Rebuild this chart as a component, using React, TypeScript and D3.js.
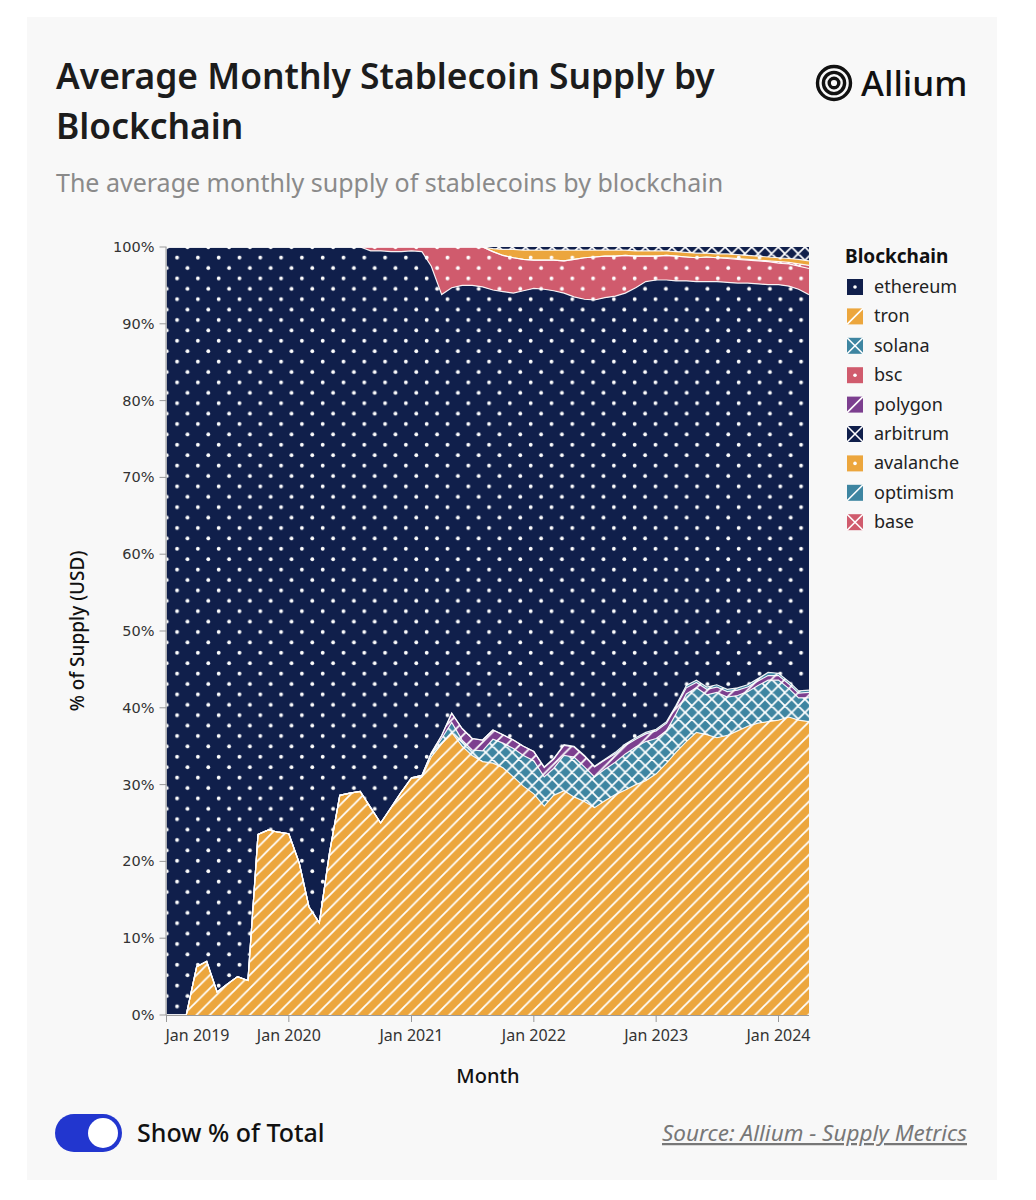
import React from "react";
import * as d3 from "d3";

const months = [
  "2019-01","2019-02","2019-03","2019-04","2019-05","2019-06","2019-07","2019-08","2019-09","2019-10","2019-11","2019-12",
  "2020-01","2020-02","2020-03","2020-04","2020-05","2020-06","2020-07","2020-08","2020-09","2020-10","2020-11","2020-12",
  "2021-01","2021-02","2021-03","2021-04","2021-05","2021-06","2021-07","2021-08","2021-09","2021-10","2021-11","2021-12",
  "2022-01","2022-02","2022-03","2022-04","2022-05","2022-06","2022-07","2022-08","2022-09","2022-10","2022-11","2022-12",
  "2023-01","2023-02","2023-03","2023-04","2023-05","2023-06","2023-07","2023-08","2023-09","2023-10","2023-11","2023-12",
  "2024-01","2024-02","2024-03","2024-04",
];

const tron = [
  0,0,0,6.3,7.0,3.0,4.0,5.0,4.5,23.5,24.1,23.8,
  23.6,19.8,14.1,12.0,21.0,28.6,28.9,29.1,27.0,25.0,27.0,29.0,
  30.8,31.0,33.6,35.3,36.8,35.0,33.8,33.0,32.8,32.2,31.0,29.8,
  28.8,27.2,28.6,29.2,28.4,27.8,27.0,27.9,28.7,29.3,30.0,30.5,
  31.4,32.8,34.2,35.6,36.8,36.5,36.1,36.4,37.0,37.6,38.0,38.2,
  38.4,38.8,38.4,38.2,
];
const solana = [
  0,0,0,0,0,0,0,0,0,0,0,0,
  0,0,0,0,0,0,0,0,0,0,0,0,
  0.1,0.2,0.4,0.7,1.3,0.8,0.7,1.4,3.1,3.2,3.7,4.0,
  4.3,3.8,3.5,4.6,5.2,4.5,4.0,4.1,4.2,4.7,4.9,5.1,
  4.6,4.2,5.0,6.2,5.8,5.2,5.9,5.0,4.6,4.5,4.9,5.4,
  5.2,3.7,2.9,3.1,
];
const polygon = [
  0,0,0,0,0,0,0,0,0,0,0,0,
  0,0,0,0,0,0,0,0,0,0,0,0,
  0,0,0.1,0.4,1.2,1.5,1.5,1.4,1.2,1.1,1.1,1.2,
  1.2,1.2,1.2,1.3,1.3,1.4,1.3,1.2,1.1,1.1,1.0,1.0,
  1.0,1.0,0.9,0.8,0.7,0.7,0.7,0.7,0.7,0.6,0.6,0.6,
  0.6,0.6,0.6,0.7,
];
const optimism = [
  0,0,0,0,0,0,0,0,0,0,0,0,
  0,0,0,0,0,0,0,0,0,0,0,0,
  0,0,0,0,0,0,0,0,0,0,0,0,
  0,0.1,0.1,0.1,0.1,0.1,0.1,0.1,0.2,0.2,0.2,0.2,
  0.2,0.2,0.2,0.3,0.3,0.3,0.3,0.3,0.3,0.3,0.3,0.4,
  0.3,0.3,0.3,0.3,
];
const ethereum = [
  100,100,100,93.7,93.0,97.0,96.0,95.0,95.5,76.5,75.9,76.2,
  76.4,80.2,85.9,88.0,79.0,71.4,71.1,70.9,72.5,74.5,72.4,70.4,
  68.6,68.2,63.4,57.4,55.4,57.7,59.0,59.0,57.3,57.7,58.2,59.3,
  60.3,62.2,60.9,58.8,58.5,59.4,60.7,60.1,59.4,58.7,58.6,58.7,
  58.5,57.5,55.3,52.7,51.9,52.8,52.5,53.0,52.7,52.3,51.4,50.5,
  50.6,51.5,52.3,51.5,
];
const bsc = [
  0,0,0,0,0,0,0,0,0,0,0,0,
  0,0,0,0,0,0,0,0,0.5,0.5,0.6,0.6,
  0.5,0.6,2.5,6.2,5.3,5.0,5.0,5.2,5.0,4.7,4.6,4.1,
  3.7,3.8,4.0,4.2,4.9,5.4,5.6,5.4,5.2,4.9,4.1,3.3,
  3.1,3.2,3.2,3.1,3.1,3.2,3.1,3.1,3.1,3.0,3.0,3.0,
  2.8,2.9,3.0,3.4,
];
const base = [
  0,0,0,0,0,0,0,0,0,0,0,0,
  0,0,0,0,0,0,0,0,0,0,0,0,
  0,0,0,0,0,0,0,0,0,0,0,0,
  0,0,0,0,0,0,0,0,0,0,0,0,
  0,0,0,0,0,0,0,0.1,0.1,0.1,0.1,0.1,
  0.2,0.2,0.3,0.4,
];
const avalanche = [
  0,0,0,0,0,0,0,0,0,0,0,0,
  0,0,0,0,0,0,0,0,0,0,0,0,
  0,0,0,0,0,0,0,0,0.4,0.8,1.1,1.2,
  1.3,1.3,1.3,1.4,1.2,1.0,0.9,0.8,0.8,0.7,0.7,0.7,
  0.7,0.6,0.6,0.6,0.6,0.5,0.5,0.5,0.5,0.5,0.5,0.5,
  0.5,0.5,0.6,0.6,
];
const arbitrum = [
  0,0,0,0,0,0,0,0,0,0,0,0,
  0,0,0,0,0,0,0,0,0,0,0,0,
  0,0,0,0,0,0,0,0,0.2,0.3,0.3,0.4,
  0.4,0.4,0.4,0.4,0.4,0.4,0.4,0.4,0.4,0.4,0.5,0.5,
  0.5,0.5,0.6,0.7,0.8,0.8,0.9,0.9,1.0,1.1,1.2,1.3,
  1.4,1.5,1.6,1.8,
];

const legendOrder = ["ethereum","tron","solana","bsc","polygon","arbitrum","avalanche","optimism","base"];
const stackOrder = ["tron","solana","polygon","optimism","ethereum","bsc","base","avalanche","arbitrum"];
const yTicks = [0,0.1,0.2,0.3,0.4,0.5,0.6,0.7,0.8,0.9,1];

const seriesData: Record<string, number[]> = { ethereum, tron, solana, bsc, polygon, arbitrum, avalanche, optimism, base };

const NAVY = "#101f4b";
const ORANGE = "#eca63d";
const TEAL = "#3e85a1";
const PINK = "#d05b6d";
const PURPLE = "#7c3f8f";

const styleOf: Record<string, { color: string; kind: string }> = {
  ethereum: { color: NAVY, kind: "dot" },
  tron: { color: ORANGE, kind: "diag" },
  solana: { color: TEAL, kind: "cross" },
  bsc: { color: PINK, kind: "dot" },
  polygon: { color: PURPLE, kind: "diag" },
  arbitrum: { color: NAVY, kind: "cross" },
  avalanche: { color: ORANGE, kind: "dot" },
  optimism: { color: TEAL, kind: "diag" },
  base: { color: PINK, kind: "cross" },
};

const X0 = 166.5, X1 = 809, Y0 = 1015, Y1 = 247;
const FONT = "'Noto Sans', sans-serif";

function Pattern({ id, color, kind }: { id: string; color: string; kind: string }) {
  if (kind === "dot") {
    const s = 20.8;
    return (
      <pattern id={id} patternUnits="userSpaceOnUse" width={s} height={s} x={161.5} y={242}>
        <rect width={s} height={s} fill={color} />
        <circle cx={s / 4} cy={s / 4} r={1.9} fill="#fff" />
        <circle cx={(3 * s) / 4} cy={(3 * s) / 4} r={1.9} fill="#fff" />
      </pattern>
    );
  }
  const s = 13.3;
  const q = s / 4;
  const diag = `M0,${s}L${s},0M${-q},${q}L${q},${-q}M${s - q},${s + q}L${s + q},${s - q}`;
  const anti = `M0,0L${s},${s}M${-q},${s - q}L${q},${s + q}M${s - q},${-q}L${s + q},${q}`;
  return (
    <pattern id={id} patternUnits="userSpaceOnUse" width={s} height={s} x={X0} y={Y1}>
      <rect width={s} height={s} fill={color} />
      <path d={kind === "cross" ? diag + anti : diag} stroke="#fff" strokeWidth={1.8} fill="none" />
    </pattern>
  );
}

export default function App() {
  const parse = d3.timeParse("%Y-%m");
  const dates = months.map((m) => parse(m) as Date);
  const x = d3.scaleTime().domain([dates[0], dates[dates.length - 1]]).range([X0, X1]);
  const y = d3.scaleLinear().domain([0, 1]).range([Y0, Y1]);

  const rows = dates.map((d, i) => {
    const r: any = { date: d };
    stackOrder.forEach((k) => (r[k] = seriesData[k][i]));
    return r;
  });
  const stacked = d3.stack<any>().keys(stackOrder).offset(d3.stackOffsetExpand)(rows);
  const area = d3
    .area<any>()
    .x((d) => x(d.data.date))
    .y0((d) => y(d[0]))
    .y1((d) => y(d[1]));
  const topLine = d3
    .line<any>()
    .x((d) => x(d.data.date))
    .y((d) => y(d[1]));

  const xTicks = x.ticks(d3.timeYear.every(1) as any);
  const fmtX = d3.timeFormat("Jan %Y");
  const fmtY = d3.format(".0%");

  return (
    <div style={{ position: "absolute", left: 0, top: 0 }}>
      <svg width={1036} height={1200} style={{ display: "block" }}>
        <defs>
          {legendOrder.map((k) => (
            <Pattern key={k} id={`pat-${k}`} color={styleOf[k].color} kind={styleOf[k].kind} />
          ))}
          <clipPath id="plot-clip">
            <rect x={X0} y={Y1} width={X1 - X0} height={Y0 - Y1} />
          </clipPath>
        </defs>
        <rect width={1036} height={1200} fill="#ffffff" />
        <rect x={27} y={17} width={970} height={1163} fill="#f8f8f8" />

        {/* Title */}
        <text x={56} y={89} fontFamily={FONT} fontSize={35.4} fontWeight={600} fill="#1c1c1c">
          Average Monthly Stablecoin Supply by
        </text>
        <text x={56} y={139} fontFamily={FONT} fontSize={35.4} fontWeight={600} fill="#1c1c1c">
          Blockchain
        </text>
        <text x={56} y={192} fontFamily={FONT} fontSize={25} fill="#8a8a8a">
          The average monthly supply of stablecoins by blockchain
        </text>

        {/* Logo */}
        <g transform="translate(834,83)" fill="none" stroke="#111" strokeWidth={3.4}>
          <circle r={16.5} />
          <circle r={10.6} />
          <circle r={4.8} />
        </g>
        <text x={861} y={96} fontFamily={FONT} fontSize={35} fontWeight={500} fill="#111">
          Allium
        </text>

        {/* Areas */}
        <g clipPath="url(#plot-clip)">
          {stacked.map((s) => (
            <path key={s.key} d={area(s) || ""} fill={`url(#pat-${s.key})`} />
          ))}
          {stacked.slice(0, stacked.length - 1).map((s) => (
            <path key={"l" + s.key} d={topLine(s) || ""} fill="none" stroke="#ffffff" strokeOpacity={0.9} strokeWidth={1.2} />
          ))}
        </g>

        {/* Y axis */}
        <g fontFamily="'DejaVu Sans', sans-serif" fontSize={14.5} fill="#333">
          <line x1={X0 - 0.5} x2={X0 - 0.5} y1={Y1} y2={Y0} stroke="#999" />
          {yTicks.map((t) => (
            <g key={t} transform={`translate(0,${y(t)})`}>
              <line x1={X0 - 7} x2={X0} stroke="#999" />
              <text x={X0 - 12} dy="0.35em" textAnchor="end">
                {fmtY(t)}
              </text>
            </g>
          ))}
        </g>
        <text
          transform={`translate(84,${(Y0 + Y1) / 2}) rotate(-90)`}
          textAnchor="middle"
          fontFamily={FONT}
          fontSize={19}
          fontWeight={500}
          fill="#111"
        >
          % of Supply (USD)
        </text>

        {/* X axis */}
        <g fontFamily={FONT} fontSize={16} fill="#333">
          <line x1={X0} x2={X1} y1={Y0 + 0.5} y2={Y0 + 0.5} stroke="#999" />
          {xTicks.map((t, i) => (
            <g key={i} transform={`translate(${x(t)},0)`}>
              <line y1={Y0} y2={Y0 + 7} stroke="#999" />
              <text y={Y0 + 26} textAnchor={i === 0 ? "start" : "middle"} x={i === 0 ? -1 : 0}>
                {fmtX(t)}
              </text>
            </g>
          ))}
        </g>
        <text x={488} y={1083} textAnchor="middle" fontFamily={FONT} fontSize={20} fontWeight={500} fill="#111">
          Month
        </text>

        {/* Legend */}
        <text x={845} y={263} fontFamily={FONT} fontSize={19} fontWeight={700} fill="#111">
          Blockchain
        </text>
        {legendOrder.map((k, i) => {
          const cy = 287 + i * 29.4;
          const st = styleOf[k];
          return (
            <g key={k} transform={`translate(847,${cy - 8})`}>
              <rect width={16} height={16} fill={st.color} />
              {st.kind === "dot" && <circle cx={8} cy={8} r={1.8} fill="#fff" />}
              {st.kind !== "dot" && <line x1={0} y1={16} x2={16} y2={0} stroke="#fff" strokeWidth={1.6} />}
              {st.kind === "cross" && <line x1={0} y1={0} x2={16} y2={16} stroke="#fff" strokeWidth={1.6} />}
              <text x={27} y={14} fontFamily={FONT} fontSize={18} fill="#222">
                {k}
              </text>
            </g>
          );
        })}

        {/* Toggle */}
        <rect x={55} y={1114} width={67} height={38} rx={19} fill="#2236cf" />
        <circle cx={103} cy={1133} r={15} fill="#ffffff" />
        <text x={137} y={1142} fontFamily={FONT} fontSize={25} fontWeight={500} fill="#111">
          Show % of Total
        </text>

        {/* Source */}
        <text
          x={967}
          y={1141}
          textAnchor="end"
          fontFamily={FONT}
          fontSize={22.5}
          fontStyle="italic"
          fill="#777"
          textDecoration="underline"
        >
          Source: Allium - Supply Metrics
        </text>
      </svg>
    </div>
  );
}
